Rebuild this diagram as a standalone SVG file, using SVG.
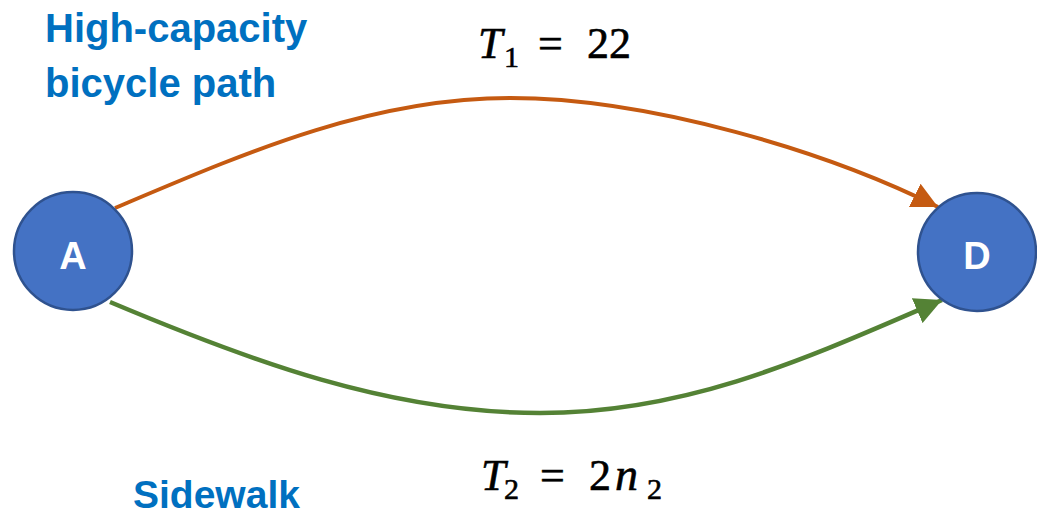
<svg xmlns="http://www.w3.org/2000/svg" width="1037" height="515" viewBox="0 0 1037 515">
<style>
.node{fill:#4472C4;stroke:#2F528F;stroke-width:2.5}
.nlab{font-family:"Liberation Sans",Arial,sans-serif;font-weight:bold;font-size:38px;fill:#fff;text-anchor:middle}
.blue{font-family:"Liberation Sans",Arial,sans-serif;font-weight:bold;fill:#0070C0}
.math{font-family:"Liberation Serif","Times New Roman",serif;fill:#000;stroke:#000;stroke-width:0.6}
.it{font-style:italic}
</style>
<defs>
<marker id="ao" viewBox="0 0 10 10" refX="10" refY="5" markerWidth="6.5" markerHeight="6.5" orient="auto" markerUnits="strokeWidth"><path d="M0,0 L10,5 L0,10 z" fill="#C55A11"/></marker>
<marker id="ag" viewBox="0 0 10 10" refX="10" refY="5" markerWidth="6" markerHeight="6" orient="auto" markerUnits="strokeWidth"><path d="M0,0 L10,5 L0,10 z" fill="#548235"/></marker>
</defs>
<g id="connectors" fill="none" stroke-width="4">
<path d="M115,208 C245,153 370,98 510,98 C650,98 828,152 938,207" stroke="#C55A11" marker-end="url(#ao)"/>
<path d="M110,302 C250,361 390,413 540,413 C690,413 812,356 942,300" stroke="#548235" stroke-width="4.5" marker-end="url(#ag)"/>
</g>
<g id="node-A"><circle class="node" cx="73" cy="251" r="59"/><text class="nlab" x="73" y="269">A</text></g>
<g id="node-D"><circle class="node" cx="977" cy="252" r="59"/><text class="nlab" x="977" y="269">D</text></g>
<g id="label-top">
<text class="blue" font-size="40" x="45" y="42">High-capacity</text>
<text class="blue" font-size="40" x="45" y="97">bicycle path</text>
</g>
<g id="label-bottom"><text class="blue" font-size="39" x="133" y="508">Sidewalk</text></g>
<g id="math-top" class="math">
<text font-size="44" x="478" y="58" class="it">T</text>
<text font-size="30" x="504" y="67">1</text>
<text font-size="44" x="538" y="58">=</text>
<text font-size="44" x="587" y="58">22</text>
</g>
<g id="math-bottom" class="math">
<text font-size="44" x="481" y="490" class="it">T</text>
<text font-size="30" x="504" y="499">2</text>
<text font-size="44" x="540" y="490">=</text>
<text font-size="44" x="589" y="490">2</text>
<text font-size="46" x="615" y="490" class="it">n</text>
<text font-size="30" x="647" y="499">2</text>
</g>
</svg>
